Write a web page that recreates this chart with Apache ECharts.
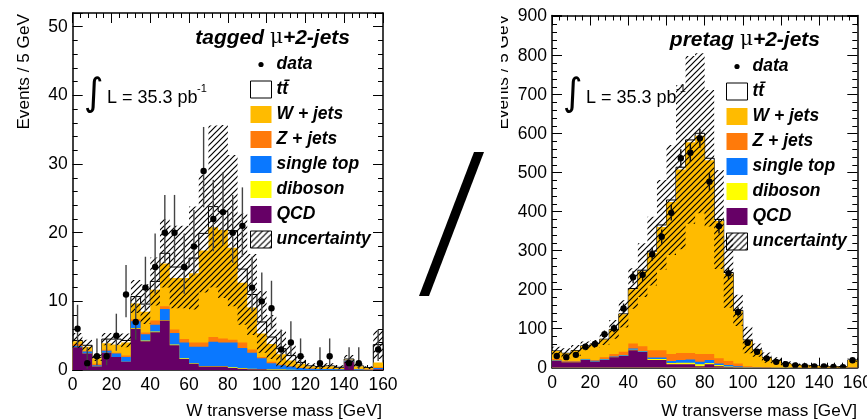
<!DOCTYPE html>
<html>
<head>
<meta charset="utf-8">
<script src="https://cdn.jsdelivr.net/npm/echarts@6/dist/echarts.min.js"></script>
<style>
html, body { margin: 0; padding: 0; background: #fff; }
#charts { width: 867px; height: 419px; }
</style>
</head>
<body>
<div id="charts"></div>
<script>
// W transverse mass, 5 GeV bins (low edges)
const massBins = [0,5,10,15,20,25,30,35,40,45,50,55,60,65,70,75,80,85,90,95,100,105,110,115,120,125,130,135,140,145,150,155];
const binWidth = 5;

// tagged mu+2-jets, events per bin for each sample
const taggedQCD       = [3.3,2.4,0.5,2.5,1.9,1.2,6.0,4.2,5.5,7.2,3.6,1.6,0.9,0.5,0.5,0.5,0.3,0.2,0.1,0.1,0.05,0.05,0,0,0,0,0,0,1.2,0,0,0.1];
const taggedDiboson   = [0,0,0,0,0,0,0.1,0.1,0.1,0.1,0.1,0.1,0.1,0.1,0.1,0.1,0.1,0.1,0.1,0.05,0.05,0.05,0.05,0,0,0,0,0,0,0,0,0];
const taggedSingleTop = [0.2,0.3,0.2,0.3,0.5,0.7,1.0,0.9,1.0,1.6,1.7,2.3,2.4,2.8,3.5,3.4,3.6,2.9,2.3,1.55,0.9,0.6,0.45,0.3,0.2,0.15,0.15,0.1,0.2,0.1,0.05,0.2];
const taggedZjets     = [0.3,0.1,0.2,0.15,0.1,0.2,0.3,0.25,0.6,0.4,0.5,0.5,0.6,0.6,0.7,0.6,0.4,0.8,0.5,0.2,0.2,0.1,0.1,0.05,0.05,0.05,0.05,0.05,0.05,0.05,0.05,0.1];
const taggedWjets     = [0.4,0.6,0.8,0.95,1.2,1.9,2.3,3.05,4.5,6.2,7.5,8.9,10.1,13.4,16.0,15.8,13.4,8.7,6.1,3.4,2.6,1.5,0.8,0.55,0.25,0.25,0.3,0.15,0.05,0.35,0.2,0.7];
const taggedTtbar     = [0.1,0.2,0.1,0.6,0.8,0.3,1.0,1.1,1.2,1.5,1.6,1.6,2.2,2.5,3.0,2.7,2.5,2.0,1.9,1.7,1.0,0.8,0.7,0.2,0.1,0.05,0.1,0.1,0.1,0.1,0.05,2.6];
const taggedUnc       = [1.1,0.8,0.5,0.9,0.9,1.0,2.4,2.9,3.5,5.0,6.0,6.0,7.5,8.6,11.8,12.6,11.0,8.1,5.9,4.5,3.2,2.7,1.7,0.9,0.4,0.4,0.4,0.3,0.6,0.3,0.2,2.1];
const taggedData      = [6,1,2,2,5,11,7,12,15,20,20,15,18,29,22,23,20,21,12,10,9,3,4,2,0,1,2,0,1,1,0,3];
const taggedErrUp     = [3.5,2.3,2.6,2.6,3.2,4.3,3.7,4.5,4.9,5.5,5.5,4.9,5.3,6.4,5.7,5.8,5.5,5.6,4.5,4.2,4.0,2.9,3.1,2.6,0,2.3,2.6,0,2.3,2.3,0,2.9];
const taggedErrDown   = [2.8,0.8,1.3,1.3,2.2,3.3,2.6,3.4,3.9,4.4,4.4,3.9,4.2,5.3,4.7,4.8,4.4,4.5,3.4,3.1,3.0,1.7,1.9,1.3,0,0.8,1.3,0,0.8,0.8,0,1.7];

// pretag mu+2-jets
const pretagQCD       = [18,14,14,20,15,20,26.5,30,45,40,20,20,9,9,9,4,9,4,2,1,0.5,0.3,0.2,0.1,0.1,0,0,0,0,0,0,0.3];
const pretagDiboson   = [0.5,0.5,0.5,0.5,0.5,0.5,0.5,0.5,1,1,2,2,3,4,4,5,3,3,1,0.5,0.5,0.2,0.1,0.1,0.1,0.1,0,0,0,0,0,0.2];
const pretagSingleTop = [1,1,1,1.5,2,1.5,2,2,3,2,4,4,5,7,8,6,8,4,4,2.5,1,0.5,0.5,0.3,0.2,0.2,0.1,0.1,0.1,0.1,0.1,0.3];
const pretagZjets     = [2.5,1.5,1.5,1,2.5,4.5,6,8.5,13,12,19,19,18,18,17,20,15,13,10,7,2,1,0.7,0.5,0.3,0.2,0.2,0.1,0.1,0.1,0.1,0.5];
const pretagWjets     = [20.5,19.5,26.5,32.5,40.5,46,62,96,139,192,250,316,390,470,540,560,497,352,224,134,66,42.5,24,16.7,10,7.8,5.5,4,3.1,2.3,2.3,18.5];
const pretagTtbar     = [0.5,0.5,0.5,0.5,0.5,0.5,1,1,2,3,4,5,5,6,6,6,5,4,3,2,1,0.5,0.5,0.3,0.3,0.2,0.2,0.1,0.1,0.1,0.1,0.2];
const pretagUnc       = [11,13,14,11,10,15,24,35,52,69,88,115,141,210,215,205,175,127,90,40,34,17,13,9,6,4,3,2,2,2,2,5];
const pretagData      = [30,27,33,54,61,86,101,152,232,238,291,336,397,537,551,588,477,363,242,143,64,41,24,15,9,6,4,3,3,2,1,19];
const pretagErr       = [5.5,5.2,5.7,7.3,7.8,9.3,10,12.3,15.2,15.4,17,18.3,19.9,23.2,23.5,24.2,21.8,19,15.6,12,8,6.4,4.9,3.9,3,2.4,2,1.7,1.7,1.4,1,4.4];

const TT = 'tt\u0304';
const FONT = 'Liberation Sans';

// stack order, bottom to top
const samples = [
  { name: 'QCD',        color: '#660066' },
  { name: 'diboson',    color: '#ffff00' },
  { name: 'single top', color: '#0a78ff' },
  { name: 'Z + jets',   color: '#ff7a0a' },
  { name: 'W + jets',   color: '#ffbb00' },
  { name: TT,           color: '#ffffff', stroke: '#000' }
];

const panels = [
  { comps: [taggedQCD, taggedDiboson, taggedSingleTop, taggedZjets, taggedWjets, taggedTtbar],
    data: taggedData, errUp: taggedErrUp, errDown: taggedErrDown, unc: taggedUnc,
    yMax: 52, major: 10, minor: 2, errColor: '#444' },
  { comps: [pretagQCD, pretagDiboson, pretagSingleTop, pretagZjets, pretagWjets, pretagTtbar],
    data: pretagData, errUp: pretagErr, errDown: pretagErr, unc: pretagUnc,
    yMax: 903, major: 100, minor: 20, errColor: '#111' }
];

// hatch tile for the uncertainty band
const tile = document.createElement('canvas');
tile.width = 6; tile.height = 6;
const tc = tile.getContext('2d');
tc.strokeStyle = '#000';
tc.lineWidth = 1.2;
tc.beginPath();
tc.moveTo(-1, 7); tc.lineTo(7, -1);
tc.moveTo(-1, 1); tc.lineTo(1, -1);
tc.moveTo(5, 7); tc.lineTo(7, 5);
tc.stroke();
const hatch = { image: tile, repeat: 'repeat' };

const dotIcon = 'image://data:image/svg+xml;charset=utf-8,' + encodeURIComponent(
  '<svg xmlns="http://www.w3.org/2000/svg" width="21" height="17"><circle cx="10.5" cy="8.5" r="2.6" fill="#000"/></svg>');

function cumulate(comps) {
  let run = massBins.map(() => 0);
  return comps.map(c => (run = run.map((v, k) => v + c[k])));
}

function stepShape(api, lower, upper) {
  const pts = [];
  massBins.forEach((b, k) => {
    pts.push(api.coord([b, upper[k]]), api.coord([b + binWidth, upper[k]]));
  });
  for (let k = massBins.length - 1; k >= 0; k--) {
    pts.push(api.coord([massBins[k] + binWidth, lower[k]]), api.coord([massBins[k], lower[k]]));
  }
  return pts;
}

const zeros = massBins.map(() => 0);
const series = [];
const grids = [
  { left: 72.7, top: 13, width: 310.3, height: 357, outerBoundsMode: 'none' },
  { left: 552, top: 15.5, width: 305.3, height: 352.2, outerBoundsMode: 'none' }
];
const xAxis = [];
const yAxis = [];

panels.forEach((p, g) => {
  const tickBase = {
    type: 'value', gridIndex: g, splitLine: { show: false },
    axisLine: { show: true, onZero: false, lineStyle: { color: '#000', width: 1.5 } },
    axisTick: { show: true, inside: true, length: 10, lineStyle: { color: '#000', width: 1 } }
  };
  const xBase = Object.assign({}, tickBase, {
    min: 0, max: 160, interval: 20,
    minorTick: { show: true, splitNumber: 5, length: 5, lineStyle: { color: '#000', width: 1 } }
  });
  xAxis.push(Object.assign({}, xBase, {
    position: 'bottom',
    axisLabel: { show: true, margin: 6, fontFamily: FONT, fontSize: 17.5, color: '#000' }
  }));
  xAxis.push(Object.assign({}, xBase, { position: 'top', axisLabel: { show: false } }));

  const yBase = Object.assign({}, tickBase, { min: 0, max: p.yMax });
  const yMinor = Object.assign({}, yBase, {
    interval: p.minor, axisLine: { show: false, onZero: false }, axisLabel: { show: false },
    axisTick: { show: true, inside: true, length: 5, lineStyle: { color: '#000', width: 1 } }
  });
  yAxis.push(Object.assign({}, yBase, {
    position: 'left', interval: p.major,
    axisLabel: { show: true, margin: 5, fontFamily: FONT, fontSize: 17.5, color: '#000',
      formatter: v => (v % p.major === 0 ? String(v) : '') }
  }));
  yAxis.push(Object.assign({}, yMinor, { position: 'left' }));
  yAxis.push(Object.assign({}, yBase, { position: 'right', interval: p.major, axisLabel: { show: false } }));
  yAxis.push(Object.assign({}, yMinor, { position: 'right' }));

  const xi = 2 * g, yi = 4 * g;
  const cum = cumulate(p.comps);
  // ROOT style: draw the full stack first, then each lower sum on top of it
  for (let i = samples.length - 1; i >= 0; i--) {
    const s = samples[i];
    const tops = cum[i];
    series.push({
      type: 'custom', name: s.name, xAxisIndex: xi, yAxisIndex: yi, silent: true, clip: true,
      itemStyle: { color: s.color },
      data: [[0, 0]],
      renderItem: (params, api) => ({
        type: 'polygon',
        shape: { points: stepShape(api, zeros, tops) },
        style: s.stroke ? { fill: s.color, stroke: s.stroke, lineWidth: 1 } : { fill: s.color }
      })
    });
  }
  const total = cum[cum.length - 1];
  const bandHi = total.map((v, k) => v + p.unc[k]);
  const bandLo = total.map((v, k) => Math.max(0, v - p.unc[k]));
  series.push({
    type: 'custom', name: 'uncertainty', xAxisIndex: xi, yAxisIndex: yi, silent: true, clip: true,
    itemStyle: { color: hatch },
    data: [[0, 0]],
    renderItem: (params, api) => ({
      type: 'polygon',
      shape: { points: stepShape(api, bandLo, bandHi) },
      style: { fill: hatch }
    })
  });

  const points = [];
  massBins.forEach((b, k) => {
    if (p.data[k] > 0) points.push([b + binWidth / 2, p.data[k], p.errUp[k], p.errDown[k]]);
  });
  series.push({
    type: 'custom', name: 'data', xAxisIndex: xi, yAxisIndex: yi, silent: true, clip: true,
    itemStyle: { color: '#000' },
    data: points,
    renderItem: (params, api) => {
      const x = api.value(0), n = api.value(1);
      const c = api.coord([x, n]);
      const hi = api.coord([x, n + api.value(2)]);
      const lo = api.coord([x, n - api.value(3)]);
      return {
        type: 'group',
        children: [
          { type: 'line', shape: { x1: c[0], y1: hi[1], x2: c[0], y2: lo[1] },
            style: { stroke: p.errColor, lineWidth: 1.4 } },
          { type: 'circle', shape: { cx: c[0], cy: c[1], r: 3.2 }, style: { fill: '#000' } }
        ]
      };
    }
  });
});

function legendFor(left, top) {
  return {
    orient: 'vertical', left: left, top: top, padding: 0, itemGap: 7,
    itemWidth: 21, itemHeight: 17, icon: 'rect', selectedMode: false,
    textStyle: { fontFamily: FONT, fontSize: 17.5, fontWeight: 'bold', fontStyle: 'italic',
      color: '#000', lineHeight: 17.5 },
    data: [
      { name: 'data', icon: dotIcon },
      { name: TT, itemStyle: { color: '#fff', borderColor: '#000', borderWidth: 1 } },
      'W + jets', 'Z + jets', 'single top', 'diboson', 'QCD',
      { name: 'uncertainty', itemStyle: { color: hatch, borderColor: '#000', borderWidth: 1 } }
    ]
  };
}

function plotTitle(label, x, y) {
  return {
    type: 'text', x: x, y: y, z: 20,
    style: {
      text: '{a|' + label + ' }{m|\u03bc}{a|+2-jets}',
      align: 'right', textAlign: 'right', verticalAlign: 'middle', textVerticalAlign: 'middle',
      rich: {
        a: { fontFamily: FONT, fontSize: 21, fontWeight: 'bold', fontStyle: 'italic', fill: '#000' },
        m: { fontFamily: 'DejaVu Serif', fontSize: 20, fill: '#000' }
      }
    }
  };
}

function lumi(x0) {
  return [
    { type: 'text', x: x0 + 4, y: 95, z: 20,
      style: { text: '\u222b', fontFamily: 'DejaVu Sans', fontSize: 38, fill: '#000',
        align: 'center', textAlign: 'center', verticalAlign: 'middle', textVerticalAlign: 'middle' } },
    { type: 'text', x: x0 + 17, y: 98, z: 20,
      style: { text: 'L = 35.3 pb', fontFamily: FONT, fontSize: 18, fill: '#000',
        verticalAlign: 'middle', textVerticalAlign: 'middle' } },
    { type: 'text', x: x0 + 107, y: 89, z: 20,
      style: { text: '-1', fontFamily: FONT, fontSize: 11, fill: '#000',
        verticalAlign: 'middle', textVerticalAlign: 'middle' } }
  ];
}

function axisTitle(x, y, rot, align) {
  const t = rot ? 'Events / 5 GeV' : 'W transverse mass [GeV]';
  return {
    type: 'text', x: x, y: y, rotation: rot, z: 20,
    style: { text: t, fontFamily: FONT, fontSize: 17.2, fill: '#000',
      align: align, textAlign: align, verticalAlign: 'middle', textVerticalAlign: 'middle' }
  };
}

const graphic = [
  plotTitle('tagged', 350, 38),
  plotTitle('pretag', 820, 40),
  ...lumi(90),
  ...lumi(569),
  axisTitle(382, 411, 0, 'right'),
  axisTitle(857, 411, 0, 'right'),
  axisTitle(24, 14, Math.PI / 2, 'right'),
  axisTitle(503, 14, Math.PI / 2, 'right'),
  // the right panel's y title is cut off in the figure
  { type: 'rect', z: 21, shape: { x: 430, y: 0, width: 71, height: 145 }, style: { fill: '#fff' } },
  { type: 'polygon', z: 21, shape: { points: [[474, 152], [484, 152], [429, 296], [419, 296]] },
    style: { fill: '#000' } }
];

const chart = echarts.init(document.getElementById('charts'));
chart.setOption({
  backgroundColor: '#fff',
  animation: false,
  grid: grids,
  xAxis: xAxis,
  yAxis: yAxis,
  legend: [legendFor(250, 55.5), legendFor(726, 57.5)],
  series: series,
  graphic: graphic
});
</script>
</body>
</html>
